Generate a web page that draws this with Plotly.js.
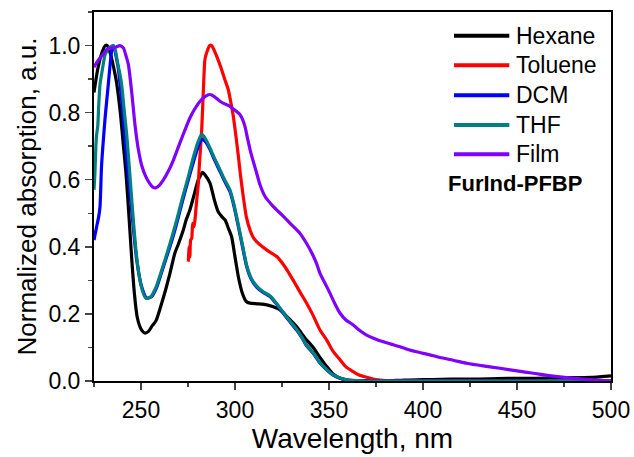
<!DOCTYPE html>
<html>
<head>
<meta charset="utf-8">
<script src="https://cdn.plot.ly/plotly-3.0.1.min.js"></script>
<style>html,body{margin:0;padding:0;background:#fff;}#chart{width:634px;height:457px;}</style>
</head>
<body>
<div id="chart"></div>
<script>
// ---- Data ----
const seriesNames = ["Hexane", "Toluene", "DCM", "THF", "Film"];
const seriesColors = ["#000000", "#FF0000", "#0000FF", "#008080", "#8000FF"];
const labelText = "FurInd-PFBP";

const hexaneX = [225, 227, 229, 231, 232, 234, 236, 237, 239, 240.5, 242, 243.5, 245, 246.5, 248, 250, 252, 254, 256, 258, 261, 263, 265.4, 268, 270, 272.5, 274, 276, 278, 280.5, 282.8, 284, 286.7, 289, 291, 293, 294.7, 296.5, 298.2, 300, 301.8, 304, 306, 308, 312, 316.9, 320, 324, 328, 332.8, 337, 341.6, 345, 348.8, 352, 356, 360, 370, 380, 390, 400, 410, 420, 430, 440, 450, 460, 470, 480, 490, 495, 500];
const hexaneY = [0.86, 0.93, 0.975, 1.0, 1.0, 0.97, 0.92, 0.89, 0.80, 0.71, 0.62, 0.50, 0.37, 0.26, 0.19, 0.155, 0.143, 0.148, 0.165, 0.18, 0.232, 0.27, 0.321, 0.381, 0.41, 0.45, 0.48, 0.51, 0.55, 0.60, 0.622, 0.615, 0.59, 0.54, 0.505, 0.49, 0.48, 0.455, 0.43, 0.37, 0.31, 0.26, 0.237, 0.232, 0.23, 0.227, 0.222, 0.212, 0.19, 0.162, 0.13, 0.10, 0.072, 0.043, 0.022, 0.008, 0.003, 0.001, 0.0, 0.003, 0.004, 0.005, 0.006, 0.006, 0.007, 0.008, 0.008, 0.009, 0.010, 0.011, 0.013, 0.015];

const tolueneX = [275.2, 275.6, 276, 276.4, 277, 277.5, 278.2, 278.7, 279.5, 280.5, 281, 282.3, 283.2, 284, 285, 286.5, 287.6, 289, 290.3, 291.5, 292.9, 294.5, 296.4, 297.8, 299.1, 300.5, 301.8, 303, 304.4, 306, 308, 310, 313.3, 317, 322.2, 326, 331, 334.6, 338.1, 341.6, 345.2, 348.8, 352, 355.9, 359, 362.9, 366, 370, 375, 380, 390, 400, 450, 500];
const tolueneY = [0.356, 0.40, 0.37, 0.42, 0.426, 0.47, 0.46, 0.48, 0.53, 0.59, 0.64, 0.75, 0.87, 0.958, 0.98, 1.0, 1.0, 0.985, 0.968, 0.95, 0.928, 0.90, 0.869, 0.83, 0.789, 0.73, 0.67, 0.61, 0.55, 0.49, 0.45, 0.425, 0.406, 0.39, 0.371, 0.345, 0.30, 0.265, 0.232, 0.195, 0.152, 0.122, 0.09, 0.063, 0.042, 0.028, 0.018, 0.011, 0.004, 0.001, 0.0, 0.0, 0.0, 0.0];

const dcmX = [225, 226.4, 227.5, 228.2, 229, 230, 230.9, 232.6, 234.4, 235.5, 237, 237.9, 239.3, 240.6, 242.4, 245, 247.7, 250.4, 253, 255.7, 258.4, 261, 263.7, 266.5, 269, 272, 275.2, 278, 280.5, 282.3, 284, 286.7, 289, 292, 294.5, 297.3, 299.5, 301.8, 304, 306.2, 308.5, 311.5, 315, 318.6, 322, 325.7, 329, 332.8, 335.5, 338.1, 341.6, 345, 348.8, 352, 355.9, 360, 365, 370, 400, 450, 500];
const dcmY = [0.42, 0.46, 0.49, 0.52, 0.64, 0.72, 0.784, 0.884, 0.983, 1.0, 0.96, 0.933, 0.86, 0.784, 0.66, 0.51, 0.361, 0.28, 0.247, 0.252, 0.28, 0.325, 0.371, 0.42, 0.47, 0.535, 0.60, 0.655, 0.70, 0.72, 0.715, 0.69, 0.66, 0.625, 0.595, 0.565, 0.52, 0.46, 0.40, 0.341, 0.305, 0.28, 0.264, 0.252, 0.23, 0.202, 0.178, 0.152, 0.13, 0.105, 0.083, 0.055, 0.033, 0.018, 0.008, 0.003, 0.001, 0.0, 0.0, 0.0, 0.0];

const thfX = [225, 225.5, 226, 226.4, 227, 227.5, 228.2, 229.5, 230.9, 232, 233.5, 235, 236.2, 237.5, 238.6, 239.7, 241, 242.4, 243.8, 245.5, 247.5, 250, 252.5, 255, 258, 261, 263.7, 266.5, 269, 272, 275.2, 278, 280.5, 282.3, 284, 286.7, 289, 292, 294.5, 297.3, 299.5, 301.8, 304, 306.2, 308.5, 311.5, 315, 318.6, 322, 325.7, 329, 332.8, 335.5, 338.1, 341.6, 345, 348.8, 352, 355.9, 360, 365, 370, 400, 450, 500];
const thfY = [0.57, 0.62, 0.70, 0.734, 0.76, 0.82, 0.884, 0.93, 0.973, 0.985, 0.995, 1.0, 0.99, 0.95, 0.92, 0.884, 0.81, 0.734, 0.635, 0.51, 0.38, 0.285, 0.247, 0.25, 0.28, 0.33, 0.378, 0.43, 0.48, 0.545, 0.61, 0.67, 0.715, 0.735, 0.725, 0.695, 0.665, 0.63, 0.60, 0.57, 0.525, 0.465, 0.405, 0.345, 0.308, 0.283, 0.266, 0.254, 0.232, 0.204, 0.18, 0.154, 0.131, 0.106, 0.084, 0.056, 0.034, 0.019, 0.009, 0.003, 0.001, 0.0, 0.0, 0.0, 0.0];

const filmX = [225, 226.5, 228.2, 230, 231.8, 234.4, 236.5, 238.8, 240.6, 242, 243.3, 245, 246.8, 248.6, 250.5, 252.5, 254.5, 256.5, 258, 260, 262, 264.5, 267.2, 270.7, 273.5, 276, 278.5, 281.4, 284, 286.7, 289, 292, 294.5, 297.3, 300, 302.7, 304, 305.3, 306.6, 308, 309.7, 311.5, 313.3, 316, 320.4, 325, 329.3, 334.6, 338.1, 341, 343.4, 345.2, 348, 350.5, 353, 355.9, 359, 362.9, 366, 370, 374, 378.9, 383, 387.8, 392, 396.6, 403.7, 409, 416, 423.2, 432, 441, 450, 458.7, 467, 476.4, 485, 492, 500];
const filmY = [0.935, 0.95, 0.963, 0.975, 0.988, 0.993, 0.995, 1.0, 0.993, 0.97, 0.943, 0.864, 0.764, 0.69, 0.64, 0.61, 0.59, 0.577, 0.576, 0.585, 0.60, 0.625, 0.658, 0.71, 0.75, 0.784, 0.81, 0.834, 0.848, 0.854, 0.848, 0.834, 0.826, 0.819, 0.807, 0.794, 0.78, 0.759, 0.725, 0.69, 0.655, 0.62, 0.585, 0.55, 0.52, 0.495, 0.47, 0.44, 0.41, 0.38, 0.35, 0.321, 0.29, 0.262, 0.232, 0.202, 0.182, 0.167, 0.152, 0.137, 0.127, 0.117, 0.11, 0.102, 0.094, 0.087, 0.078, 0.07, 0.062, 0.053, 0.045, 0.038, 0.03, 0.023, 0.016, 0.01, 0.006, 0.003, 0.0];

const xTickVals = [250, 300, 350, 400, 450, 500];
const yTickVals = [0.0, 0.2, 0.4, 0.6, 0.8, 1.0];

// ---- Build traces ----
const xs = [hexaneX, tolueneX, dcmX, thfX, filmX];
const ys = [hexaneY, tolueneY, dcmY, thfY, filmY];
const traces = seriesNames.map((n, i) => ({
  x: xs[i], y: ys[i], name: n, type: 'scatter', mode: 'lines',
  line: {color: seriesColors[i], width: 3.2, shape: 'spline', smoothing: 0.6},
  showlegend: false
}));

const FAM = 'Liberation Sans, Arial, sans-serif';
// custom legend (paper coordinates)
const legY = [0.9358, 0.8556, 0.7743, 0.6938, 0.6144];
const shapes = seriesNames.map((n, i) => ({
  type: 'line', xref: 'paper', yref: 'paper',
  x0: 0.6963, x1: 0.8033, y0: legY[i], y1: legY[i],
  line: {color: seriesColors[i], width: 4}
}));
const annotations = seriesNames.map((n, i) => ({
  xref: 'paper', yref: 'paper', x: 0.8125, y: legY[i], xanchor: 'left', yanchor: 'middle',
  text: n, showarrow: false, font: {family: FAM, size: 23, color: '#000'}
}));
annotations.push({
  xref: 'paper', yref: 'paper', x: 0.680, y: 0.5358, xanchor: 'left', yanchor: 'middle',
  text: '<b>' + labelText + '</b>', showarrow: false,
  font: {family: FAM, size: 22, color: '#000'}
});

const axisFont = {family: FAM, size: 23, color: '#000'};
const layout = {
  width: 634, height: 457,
  margin: {l: 94, r: 23, t: 12, b: 76, pad: 0},
  paper_bgcolor: '#fff', plot_bgcolor: '#fff',
  font: axisFont,
  xaxis: {
    range: [225, 500], tickvals: xTickVals, ticks: 'outside', ticklen: 7, tickwidth: 1.5,
    showline: true, linewidth: 2, linecolor: '#000', mirror: true, showgrid: false, zeroline: false,
    tickfont: axisFont,
    minor: {dtick: 25, tick0: 225, ticks: 'outside', ticklen: 4, tickwidth: 1.5, showgrid: false},
    title: {text: 'Wavelength, nm', font: {family: FAM, size: 28, color: '#000'}, standoff: 4}
  },
  yaxis: {
    range: [0, 1.1], tickvals: yTickVals, tickformat: '.1f', ticks: 'outside', ticklen: 7, tickwidth: 1.5,
    showline: true, linewidth: 2, linecolor: '#000', mirror: true, showgrid: false, zeroline: false,
    tickfont: axisFont,
    minor: {dtick: 0.1, tick0: 0, ticks: 'outside', ticklen: 4, tickwidth: 1.5, showgrid: false},
    title: {text: 'Normalized absorption, a.u.', font: {family: FAM, size: 26, color: '#000'}, standoff: 4}
  },
  shapes: shapes,
  annotations: annotations
};

Plotly.newPlot('chart', traces, layout, {displayModeBar: false, staticPlot: true});
</script>
</body>
</html>
